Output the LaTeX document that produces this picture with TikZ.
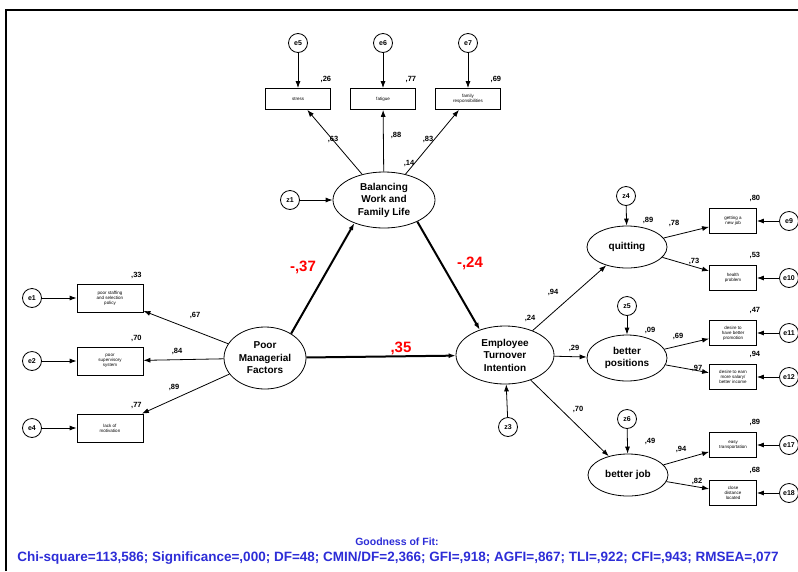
\documentclass[tikz,border=0pt]{standalone}
\usepackage{fontspec}
\setmainfont{Liberation Sans}
\usetikzlibrary{arrows.meta,shapes.geometric}
\definecolor{fitblue}{RGB}{45,45,215}
\begin{document}
\begin{tikzpicture}[x=1pt,y=-1pt,
	lat/.style={ellipse,draw,line width=.8pt,align=center,inner sep=0pt,
		font=\bfseries\fontsize{10}{12.5}\selectfont},
	obs/.style={draw,line width=.8pt,align=center,inner sep=0pt,
		font=\fontsize{4.5}{5}\selectfont},
	err/.style={circle,draw,line width=.8pt,inner sep=0pt,minimum size=19pt,
		font=\bfseries\fontsize{7}{8}\selectfont},
	est/.style={font=\bfseries\fontsize{7.5}{8}\selectfont},
	big/.style={font=\bfseries\fontsize{15}{16}\selectfont,text=red},
	arr/.style={-{Latex[length=7pt,width=5pt]},line width=.8pt},
	path/.style={arr,line width=2pt}]
	\useasboundingbox (0,0) rectangle (798,571);
	\draw[line width=2.5pt] (6,571) -- (6,10) -- (798,10);
	% latent variables
	\node[lat,minimum width=82pt,minimum height=62pt] (pmf) at (265,358) {Poor\\Managerial\\Factors};
	\node[lat,minimum width=102pt,minimum height=56pt] (bal) at (384,200) {Balancing\\Work and\\Family Life};
	\node[lat,minimum width=98pt,minimum height=58pt] (eti) at (505,355) {Employee\\Turnover\\Intention};
	\node[lat,minimum width=80pt,minimum height=42pt] (quit) at (627,247) {quitting};
	\node[lat,minimum width=80pt,minimum height=46pt] (bpos) at (627,358) {better\\positions};
	\node[lat,minimum width=80pt,minimum height=42pt] (bjob) at (628,475) {better job};
	% top indicators
	\foreach \nm/\x/\txt/\e/\r/\lx/\ly/\l in {
			stress/298/stress/e5/{,26}/333/139/{,63},
			fatigue/383/fatigue/e6/{,77}/396/135/{,88},
			family/468/{family\\responsibilities}/e7/{,69}/428/139/{,83}}
	{
		\node[obs,minimum width=65pt,minimum height=21pt] (\nm) at (\x,99) {\txt};
		\node[err] (\e) at (\x,43) {\e};
		\draw[arr] (\e) -- (\nm);
		\draw[arr] (bal) -- (\nm);
		\node[est] at ([xshift=-5pt,yshift=9pt]\nm.north east) {\r};
		\node[est] at (\lx,\ly) {\l};
	}
	% left indicators
	\foreach \nm/\y/\txt/\e/\r/\lx/\ly/\l in {
			staff/298/{poor staffing\\and selection\\policy}/e1/{,33}/195/315/{,67},
			superv/361/{poor\\supervisory\\system}/e2/{,70}/177/351/{,84},
			motiv/428/{lack of\\motivation}/e4/{,77}/174/387/{,89}}
	{
		\node[obs,minimum width=66pt,minimum height=28pt] (\nm) at (110,\y) {\txt};
		\node[err] (\e) at (32,\y) {\e};
		\draw[arr] (\e) -- (\nm);
		\draw[arr] (pmf) -- (\nm);
		\node[est] at ([xshift=-7pt,yshift=8pt]\nm.north east) {\r};
		\node[est] at (\lx,\ly) {\l};
	}
	% right indicators
	\foreach \lv/\nm/\y/\txt/\e/\r/\lx/\ly/\l in {
			quit/newjob/221/{getting a\\new job}/e9/{,80}/674/223/{,78},
			quit/health/278/{health\\problem}/e10/{,53}/694/261/{,73},
			bpos/promo/333/{desire to\\have better\\promotion}/e11/{,47}/678/336/{,69},
			bpos/salary/377/{desire to earn\\more salary/\\better income}/e12/{,94}/697/368/{,97},
			bjob/transp/445/{easy\\transportation}/e17/{,89}/681/449/{,94},
			bjob/close/493/{close\\distance\\located}/e18/{,68}/697/481/{,82}}
	{
		\node[obs,minimum width=47pt,minimum height=25pt] (\nm) at (733,\y) {\txt};
		\node[err] (\e) at (789,\y) {\e};
		\draw[arr] (\e) -- (\nm);
		\draw[arr] (\lv) -- (\nm);
		\node[est] at ([xshift=-2pt,yshift=10pt]\nm.north east) {\r};
		\node[est] at (\lx,\ly) {\l};
	}
	% disturbances
	\node[err] (z1) at (290,200) {z1};
	\node[err] (z3) at (508,427) {z3};
	\node[err] (z4) at (626,196) {z4};
	\node[err] (z5) at (627,306) {z5};
	\node[err] (z6) at (627,419) {z6};
	\draw[arr] (z1) -- (bal);
	\draw[arr] (z3) -- (eti);
	\draw[arr] (z4) -- (quit);
	\draw[arr] (z5) -- (bpos);
	\draw[arr] (z6) -- (bjob);
	% structural paths
	\draw[path] (pmf.43) -- (bal.218);
	\draw[path] (bal.-33) -- (eti.135);
	\draw[path] (pmf) -- (eti);
	\draw[arr] (eti) -- (quit);
	\draw[arr] (eti) -- (bpos);
	\draw[arr] (eti) -- (bjob);
	\node[big] at (303,267) {-,37};
	\node[big] at (470,263) {-,24};
	\node[big] at (401,348) {,35};
	\node[est] at (409,163) {,14};
	\node[est] at (530,318) {,24};
	\node[est] at (648,220) {,89};
	\node[est] at (650,330) {,09};
	\node[est] at (650,441) {,49};
	\node[est] at (553,292) {,94};
	\node[est] at (574,348) {,29};
	\node[est] at (578,409) {,70};
	% fit
	\node[font=\bfseries\fontsize{10.5}{12}\selectfont,text=fitblue] (fittitle) at (397,542) {Goodness of Fit:};
	\node[font=\bfseries\fontsize{13.5}{15}\selectfont,text=fitblue] (fitstats) at (398,558)
		{Chi-square=113,586; Significance=,000; DF=48; CMIN/DF=2,366; GFI=,918; AGFI=,867; TLI=,922; CFI=,943; RMSEA=,077};
\end{tikzpicture}
\end{document}
